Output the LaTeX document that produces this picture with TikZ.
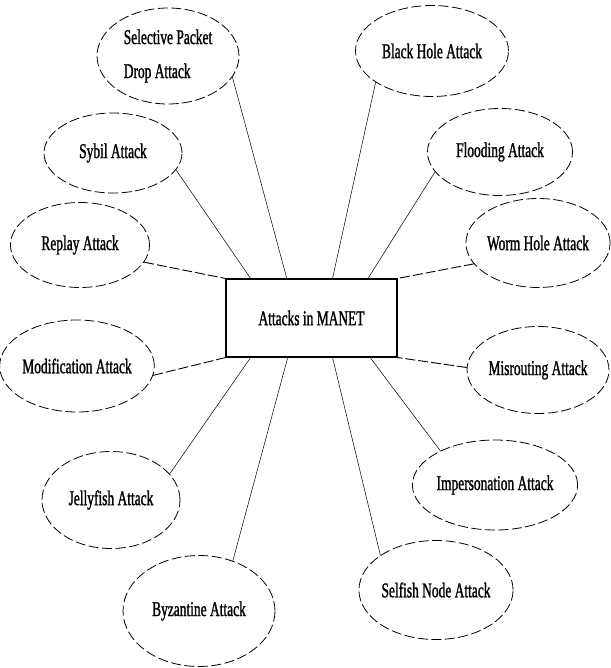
\documentclass[tikz,border=0pt]{standalone}
\usepackage{fontspec}
\setmainfont{Liberation Serif}[FakeStretch=0.64, FakeBold=1.2]
\usetikzlibrary{shapes.geometric}

\begin{document}
\begin{tikzpicture}[
        x=1pt, y=-1pt,
        attack/.style={ellipse, draw, line width=0.8pt, dash pattern=on 10pt off 3.5pt, inner sep=0pt, align=center, font=\fontsize{21}{24}\selectfont},
        hub/.style={rectangle, draw, line width=1.1pt, minimum width=171pt, minimum height=78pt, font=\fontsize{21}{24}\selectfont},
        link/.style={line width=0.5pt},
        flatlink/.style={line width=0.9pt, dash pattern=on 10pt off 3pt}
    ]
        \useasboundingbox (0,0) rectangle (610,668);
        \node (hub) [hub] at (311.5,318) {Attacks in MANET};
        \node (selective) [attack, minimum width=142pt, minimum height=96pt, align=left, font=\fontsize{21}{34}\selectfont] at (168,56) {Selective Packet\\Drop Attack};
        \node (blackhole) [attack, minimum width=153pt, minimum height=91pt] at (432,51) {Black Hole Attack};
        \node (sybil) [attack, minimum width=138pt, minimum height=80pt] at (113,153) {Sybil Attack};
        \node (flooding) [attack, minimum width=145pt, minimum height=87pt] at (500,152) {Flooding Attack};
        \node (replay) [attack, minimum width=139pt, minimum height=85pt] at (80,245) {Replay Attack};
        \node (wormhole) [attack, minimum width=142pt, minimum height=89pt] at (538,243) {Worm Hole Attack};
        \node (modification) [attack, minimum width=140pt, minimum height=92pt] at (77,366) {Modification Attack};
        \node (misrouting) [attack, minimum width=142pt, minimum height=87pt] at (538,370) {Misrouting Attack};
        \node (jellyfish) [attack, minimum width=138pt, minimum height=97pt] at (111,500) {Jellyfish Attack};
        \node (impersonation) [attack, minimum width=150pt, minimum height=90pt] at (495,485) {Impersonation Attack};
        \node (selfish) [attack, minimum width=145pt, minimum height=99pt] at (436,590) {Selfish Node Attack};
        \node (byzantine) [attack, minimum width=152pt, minimum height=111pt] at (199,611) {Byzantine Attack};
        \draw [link] (selective.-18) -- (hub.122);
        \draw [link] (blackhole.209) -- (hub.62);
        \draw [link] (sybil.-15) -- (hub.147);
        \draw [link] (flooding.197) -- (hub.35);
        \draw [flatlink] (replay.-15) -- (hub.north west);
        \draw [flatlink] (wormhole.198) -- (hub.north east);
        \draw [flatlink] (modification.-7) -- (hub.south west);
        \draw [flatlink] (misrouting.178) -- (hub.south east);
        \draw [link] (jellyfish.24) -- (hub.213);
        \draw [link] (byzantine.56) -- (hub.239);
        \draw [link] (selfish.148) -- (hub.298);
        \draw [link] (impersonation.148) -- (hub.326);
    \end{tikzpicture}
\end{document}
